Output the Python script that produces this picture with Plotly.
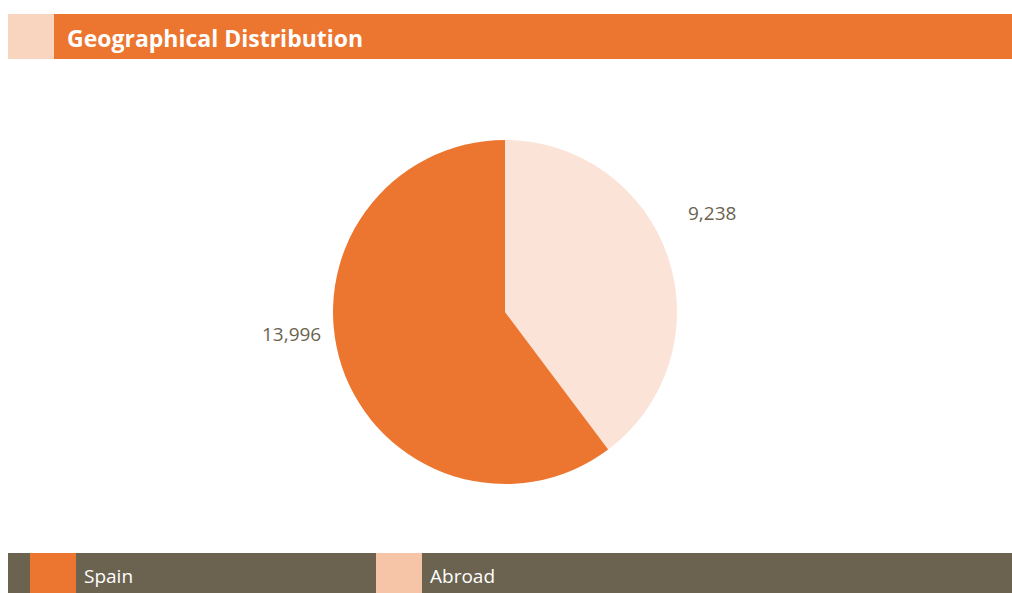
import plotly.graph_objects as go

title = "Geographical Distribution"
categories = ["Abroad", "Spain"]
values = [9238, 13996]
slice_colors = ["#FCE3D7", "#EC752F"]
legend_labels = ["Spain", "Abroad"]
legend_colors = ["#EC752F", "#F6C5A8"]

W, H = 1012, 593
fig = go.Figure()
fig.add_trace(go.Pie(
    labels=categories, values=values, sort=False, direction="clockwise", rotation=0,
    marker=dict(colors=slice_colors, line=dict(width=0)),
    textinfo="none", hoverinfo="label+value", showlegend=False,
    domain=dict(x=[(505-172)/W, (505+172)/W], y=[(593-312-172)/H, (593-312+172)/H]),
))

shapes = []
# header bar
shapes.append(dict(type="rect", xref="paper", yref="paper", x0=8/W, x1=54/W, y0=1-59/H, y1=1-14/H,
                   fillcolor="#F9D4BE", line=dict(width=0), layer="below"))
shapes.append(dict(type="rect", xref="paper", yref="paper", x0=54/W, x1=1, y0=1-59/H, y1=1-14/H,
                   fillcolor="#EC752F", line=dict(width=0), layer="below"))
# legend bar
shapes.append(dict(type="rect", xref="paper", yref="paper", x0=8/W, x1=1, y0=0, y1=1-553/H,
                   fillcolor="#6B6350", line=dict(width=0), layer="below"))
annotations = [dict(text="<b>%s</b>" % title, xref="paper", yref="paper", x=65/W, y=1-38/H,
                    xanchor="left", yanchor="middle", showarrow=False,
                    font=dict(family="Open Sans", size=23, color="white"))]
sw_x = [30, 376]
for i, (lab, col) in enumerate(zip(legend_labels, legend_colors)):
    shapes.append(dict(type="rect", xref="paper", yref="paper", x0=sw_x[i]/W, x1=(sw_x[i]+46)/W,
                       y0=0, y1=1-553/H, fillcolor=col, line=dict(width=0), layer="below"))
    annotations.append(dict(text=lab, xref="paper", yref="paper", x=(sw_x[i]+52)/W, y=1-576/H,
                            xanchor="left", yanchor="middle", showarrow=False,
                            font=dict(family="Open Sans", size=19, color="white")))
# value labels
label_pos = {"Abroad": (712, 213), "Spain": (291, 334)}
for cat, v in zip(categories, values):
    px, py = label_pos[cat]
    annotations.append(dict(text=f"{v:,}", xref="paper", yref="paper", x=px/W, y=1-py/H,
                            xanchor="center", yanchor="middle", showarrow=False,
                            font=dict(family="Open Sans", size=19, color="#6B6350")))

fig.update_layout(width=W, height=H, margin=dict(l=0, r=0, t=0, b=0),
                  paper_bgcolor="white", plot_bgcolor="white",
                  shapes=shapes, annotations=annotations)
fig.write_html("out.html")
